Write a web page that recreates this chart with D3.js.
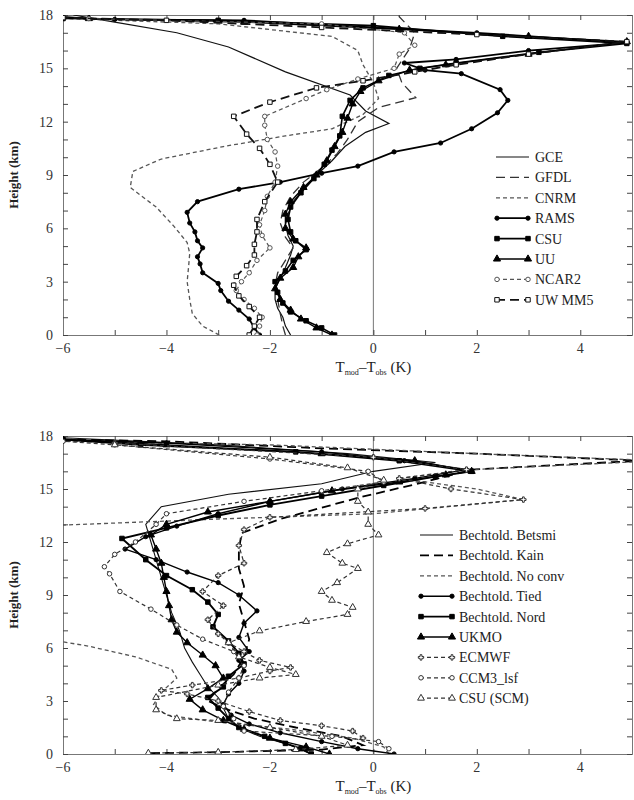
<!DOCTYPE html>
<html>
<head>
<meta charset="utf-8">
<script src="https://cdn.jsdelivr.net/npm/d3@7"></script>
<style>
  body { margin: 0; background: #fff; }
</style>
</head>
<body>
<div id="chart"></div>
<script>
// x axis (K) and height (km) ticks, shared by both panels
var xDomain = [-6, 5];
var yDomain = [0, 18];
var xLabels = [-6, -4, -2, 0, 2, 4];
var yLabels = [0, 3, 6, 9, 12, 15, 18];

// ---- top panel : CRM / regional models, [T diff, height] ----
var gce = [[-1.6,0],[-1.7,0.5],[-1.75,1],[-1.85,1.5],[-1.9,2],[-1.9,2.6],[-1.8,3.2],[-1.7,3.8],[-1.6,4.5],[-1.55,5],[-1.65,5.6],[-1.7,6.2],[-1.65,6.8],[-1.55,7.5],[-1.35,8.2],[-1.1,9],[-0.8,9.8],[-0.55,10.6],[-0.15,11.4],[0.3,11.9],[-0.15,12.6],[-0.45,13.5],[-1.7,14.8],[-2.8,16.2],[-3.8,17.0],[-5.0,17.6],[-5.8,18]];
var gfdl = [[-1.7,0],[-1.75,0.5],[-1.8,1.2],[-1.85,2],[-1.9,2.8],[-1.85,3.5],[-1.7,4.2],[-1.55,4.9],[-1.7,5.5],[-1.8,6.3],[-1.75,7],[-1.6,7.8],[-1.35,8.6],[-1.0,9.4],[-0.7,10.2],[-0.5,11],[-0.3,12],[0.1,12.8],[0.82,13.35],[0.55,14.2],[0.45,15],[0.7,16.1],[0.8,17],[0.5,17.9],[0.5,18]];
var cnrm = [[-2.98,0],[-3.3,0.5],[-3.5,1.2],[-3.55,2],[-3.6,3],[-3.57,3.9],[-3.55,4.6],[-3.6,5.2],[-3.85,6.1],[-4.2,7.2],[-4.7,8.3],[-4.65,9.2],[-4.1,9.9],[-2.9,10.6],[-1.7,11.2],[-0.8,11.6],[-0.2,12.4],[0.1,13.3],[0.0,14.2],[-0.2,15.2],[-0.3,16.0],[-0.8,16.8],[-3.0,17.5],[-5.9,17.8]];
var rams = [[-2.2,0],[-2.3,0.4],[-2.4,0.9],[-2.6,1.4],[-2.8,1.9],[-2.95,2.5],[-3.0,2.9],[-3.3,3.5],[-3.35,4.0],[-3.4,4.4],[-3.3,4.9],[-3.4,5.3],[-3.45,5.8],[-3.55,6.3],[-3.6,6.9],[-3.4,7.5],[-2.6,8.2],[-1.8,8.6],[-1.0,9.1],[-0.3,9.5],[0.4,10.3],[1.3,10.8],[1.9,11.6],[2.4,12.5],[2.6,13.2],[2.45,13.8],[1.7,14.7],[1.0,14.9],[0.6,15.3],[1.6,15.5],[3.0,16.0],[4.9,16.45],[2.0,17.0],[0,17.3],[-2.5,17.7],[-5.0,17.75],[-6,17.85]];
var csu = [[-0.75,0],[-1.0,0.4],[-1.3,0.8],[-1.6,1.3],[-1.75,1.8],[-1.85,2.4],[-1.9,3],[-1.7,3.6],[-1.55,4.2],[-1.3,4.8],[-1.5,5.3],[-1.6,5.8],[-1.65,6.5],[-1.6,7.2],[-1.4,8.0],[-1.15,8.8],[-0.95,9.6],[-0.8,10.4],[-0.65,11.2],[-0.6,12.3],[-0.45,13.2],[-0.2,13.9],[0.3,14.6],[0.9,15.0],[1.6,15.3],[3.2,15.9],[4.9,16.4],[2.5,16.8],[0,17.4],[-3,17.7],[-6,17.8]];
var uu = [[-0.8,0],[-1.1,0.4],[-1.4,0.9],[-1.6,1.4],[-1.8,2],[-1.9,2.6],[-1.8,3.2],[-1.55,3.8],[-1.45,4.4],[-1.3,4.9],[-1.55,5.4],[-1.7,6],[-1.7,6.8],[-1.6,7.5],[-1.35,8.3],[-1.1,9],[-0.9,9.8],[-0.75,10.6],[-0.6,11.4],[-0.5,12.2],[-0.4,13],[-0.25,13.7],[0.1,14.3],[0.7,14.9],[1.4,15.2],[3.0,15.8],[4.9,16.5],[3,16.8],[0.5,17.2],[-2.5,17.6],[-5.5,17.8],[-6,17.9]];
var ncar2 = [[-2.25,0],[-2.2,0.5],[-2.15,1],[-2.3,1.5],[-2.5,2],[-2.65,2.5],[-2.55,3],[-2.4,3.5],[-2.25,4.2],[-2.0,4.9],[-2.15,5.6],[-2.2,6.2],[-2.1,7],[-2.05,7.8],[-1.9,8.6],[-1.85,9.5],[-1.9,10.3],[-2.05,11],[-2.1,11.8],[-2.1,12.3],[-1.3,13.3],[-0.9,13.8],[-0.3,14.4],[0.4,15.0],[0.5,15.8],[0.8,16.3],[0.6,17.0],[-1,17.5],[-5.5,17.8]];
var uwmm5 = [[-2.4,0],[-2.3,0.5],[-2.2,1],[-2.4,1.6],[-2.6,2.2],[-2.7,2.8],[-2.65,3.3],[-2.45,3.9],[-2.3,4.5],[-2.3,5.1],[-2.25,5.8],[-2.25,6.5],[-2.1,7.5],[-1.85,8.6],[-2.0,9.6],[-2.2,10.5],[-2.45,11.3],[-2.7,12.3],[-2.0,13.1],[-1.1,13.9],[-0.2,14.3],[0.8,14.8],[1.6,15.2],[3.0,15.8],[4.9,16.5],[2.0,16.9],[-1.0,17.3],[-4.0,17.7],[-6,17.85]];

// ---- bottom panel : single column models ----
var betsmi = [[-1.2,0],[-1.6,0.5],[-2.2,1],[-2.6,1.5],[-2.8,2],[-2.9,2.6],[-3.0,3.2],[-3.2,3.8],[-3.35,4.5],[-3.5,5.2],[-3.65,6],[-3.75,7],[-3.9,8],[-4.0,9],[-4.1,10],[-4.2,11],[-4.3,12],[-4.4,13],[-4.1,14],[-2.8,14.7],[-1.0,15.3],[0,16],[1.2,16.5],[-0.5,17],[-3,17.5],[-6,17.9]];
var kain = [[-4.3,0.05],[-3.0,0.1],[-1.0,0.25],[-0.2,0.5],[-0.6,1],[-1.5,1.5],[-2.3,2],[-2.8,2.5],[-3.2,3],[-3.0,3.7],[-2.7,4.5],[-2.5,5.5],[-2.4,6.5],[-2.5,7.5],[-2.6,8.5],[-2.5,9.5],[-2.6,10.5],[-2.6,11.5],[-2.55,12.5],[-1.8,13.3],[-0.3,14.5],[1.0,15.4],[1.9,16.1],[4.5,16.5],[5.2,16.6],[2.0,17],[-1.0,17.3],[-4,17.7],[-6,17.8]];
var noconv = [[0.3,0],[0.2,0.4],[-0.4,0.9],[-1.6,1.4],[-3.0,1.8],[-4.0,2.2],[-4.25,2.8],[-4.1,3.5],[-3.8,4.3],[-3.9,4.8],[-4.6,5.5],[-5.5,6.1],[-6.5,6.6],[-8,8],[-8,12],[-6.5,12.9],[-3,13.3],[0,13.6],[2.9,14.4],[2.0,15.0],[0.5,15.6],[1.9,16.1],[5.5,16.6],[2,17],[-2,17.5],[-6,17.7]];
var tied = [[0.4,0],[-0.3,0.3],[-1.0,0.7],[-1.8,1.2],[-2.4,1.7],[-2.75,2.2],[-2.9,2.8],[-2.8,3.4],[-2.6,4.0],[-2.5,4.7],[-2.6,5.3],[-2.4,5.8],[-2.6,6.6],[-2.5,7.4],[-2.25,8.1],[-2.6,9],[-3.0,9.7],[-3.6,10.3],[-4.2,11],[-4.8,11.6],[-4.4,12.3],[-3.8,12.9],[-3.0,13.6],[-2.0,14.3],[-0.6,15],[0.8,15.6],[1.8,16.1],[0.6,16.6],[-1,17.1],[-4,17.6],[-6,17.8]];
var nord = [[-1.2,0],[-1.4,0.3],[-1.7,0.6],[-2.1,1.0],[-2.6,1.5],[-2.8,2.0],[-3.0,2.6],[-3.2,3.2],[-2.9,3.8],[-2.8,4.4],[-2.5,5.1],[-2.6,5.7],[-2.8,6.4],[-3.1,7.2],[-3.0,7.9],[-3.2,8.6],[-3.5,9.3],[-4.0,10.1],[-4.4,11.0],[-4.86,12.2],[-4.0,12.8],[-3.0,13.5],[-2.0,14.1],[-1.0,14.6],[0.2,15.2],[1.2,15.7],[1.9,16.0],[0.5,16.6],[-1.5,17.1],[-4.5,17.5],[-6,17.8]];
var ukmo = [[-0.85,0],[-1.3,0.4],[-2.0,0.9],[-2.5,1.4],[-2.9,1.9],[-3.3,2.5],[-3.55,3.1],[-3.2,3.7],[-2.9,4.3],[-3.05,5.0],[-3.3,5.6],[-3.6,6.3],[-3.8,6.9],[-3.9,7.6],[-3.95,8.4],[-4.0,9.2],[-4.05,10.0],[-4.1,10.8],[-4.2,11.6],[-4.3,12.4],[-4.0,13.0],[-3.2,13.7],[-2.0,14.3],[-0.8,14.9],[0.5,15.4],[1.4,15.8],[1.9,16.0],[0.8,16.6],[-1,17],[-4,17.5],[-6,17.8]];
var ecmwf = [[-0.2,0.9],[-0.4,1.3],[-1.0,1.6],[-1.8,1.9],[-2.4,2.4],[-3.0,3.0],[-3.6,3.4],[-4.1,3.6],[-3.5,3.9],[-2.6,4.3],[-2.0,4.7],[-1.6,4.9],[-2.2,5.3],[-2.5,5.8],[-2.8,6.3],[-3.0,6.8],[-3.2,7.6],[-2.9,8.4],[-3.3,9.2],[-3.0,10.1],[-2.5,10.8],[-2.6,11.8],[-2.5,12.7],[-2.0,13.4],[1.0,13.9],[2.9,14.4],[1.5,15.0],[0.5,15.6],[1.8,16.1],[0,16.8],[-5,17.6]];
var ccm3 = [[0.3,0.3],[0.1,0.7],[-0.8,1.0],[-2.5,1.3],[-2.7,2],[-2.9,2.7],[-2.8,3.5],[-2.6,4.3],[-2.5,5],[-2.7,5.8],[-3.3,6.5],[-3.8,7.3],[-4.3,8.2],[-4.9,9.2],[-5.1,10.2],[-5.2,10.6],[-5.0,11.3],[-4.6,12],[-4.2,13],[-4.0,13.6],[-2.5,14.3],[-1.0,14.9],[0.2,15.4],[-0.1,16],[-2,16.7],[-5,17.5],[-6,17.7]];
var csuScm = [[-4.35,0.05],[-3.0,0.1],[-1.5,0.25],[-0.5,0.5],[-1.0,1.0],[-2.0,1.5],[-3.0,1.9],[-3.8,2.0],[-4.2,2.5],[-4.2,3.2],[-3.0,3.9],[-2.2,4.3],[-1.5,4.5],[-2.0,4.9],[-2.6,5.5],[-2.8,6.3],[-2.2,6.97],[-1.3,7.5],[-0.5,7.9],[-0.4,8.3],[-0.8,8.7],[-1.0,9.2],[-0.7,9.7],[-0.3,10.5],[-0.6,10.8],[-0.9,11.4],[-0.5,11.9],[0.1,12.4],[-0.1,13],[-0.1,13.7],[-0.3,14.3],[-0.3,15],[0.2,15.5],[-0.5,16.2],[-2,16.8],[-5,17.5]];

// line styles
var LONG = "9,5", SHORT = "4,3";
var FONT = "'Liberation Serif', 'DejaVu Serif', 'Times New Roman', serif";

var topSeries = [
    {name: "GCE", data: gce, w: 1.2, dash: null, color: "#111", mark: null},
    {name: "GFDL", data: gfdl, w: 1.3, dash: LONG, color: "#333", mark: null},
    {name: "CNRM", data: cnrm, w: 1.3, dash: SHORT, color: "#555", mark: null},
    {name: "RAMS", data: rams, w: 1.8, dash: null, color: "#000", mark: "circle"},
    {name: "CSU", data: csu, w: 1.6, dash: null, color: "#000", mark: "square"},
    {name: "UU", data: uu, w: 1.4, dash: null, color: "#000", mark: "triangle"},
    {name: "NCAR2", data: ncar2, w: 1.2, dash: SHORT, color: "#555", mark: "ocircle"},
    {name: "UW MM5", data: uwmm5, w: 1.8, dash: LONG, color: "#111", mark: "osquare"}
];

var bottomSeries = [
    {name: "Bechtold. Betsmi", data: betsmi, w: 1.1, dash: null, color: "#111", mark: null},
    {name: "Bechtold. Kain", data: kain, w: 1.8, dash: LONG, color: "#000", mark: null},
    {name: "Bechtold. No conv", data: noconv, w: 1.3, dash: SHORT, color: "#555", mark: null},
    {name: "Bechtold. Tied", data: tied, w: 1.4, dash: null, color: "#000", mark: "circle"},
    {name: "Bechtold. Nord", data: nord, w: 1.9, dash: null, color: "#000", mark: "square"},
    {name: "UKMO", data: ukmo, w: 1.4, dash: null, color: "#000", mark: "triangle"},
    {name: "ECMWF", data: ecmwf, w: 1.2, dash: SHORT, color: "#333", mark: "star"},
    {name: "CCM3_lsf", data: ccm3, w: 1.2, dash: SHORT, color: "#333", mark: "ocircle"},
    {name: "CSU (SCM)", data: csuScm, w: 1.2, dash: SHORT, color: "#333", mark: "otriangle"}
];

var svg = d3.select("#chart").append("svg")
    .attr("width", 634).attr("height", 800)
    .attr("font-family", FONT);

function addMarker(g, type, x, y, color) {
    var filled = ["circle", "square", "triangle"].indexOf(type) >= 0;
    var sym = {circle: d3.symbolCircle, ocircle: d3.symbolCircle, square: d3.symbolSquare,
        osquare: d3.symbolSquare, triangle: d3.symbolTriangle, otriangle: d3.symbolTriangle,
        star: d3.symbolCross}[type];
    var size = {circle: 14, ocircle: 16, square: 20, osquare: 20, triangle: 22, otriangle: 20, star: 16}[type];
    g.append("path")
        .attr("d", d3.symbol().type(sym).size(size)())
        .attr("transform", "translate(" + x + "," + y + ")")
        .attr("fill", filled ? color : "#fff")
        .attr("stroke", color)
        .attr("stroke-width", 1);
}

function drawPanel(id, top, bottom, series, legendX, legendY) {
    var left = 63, right = 632;
    var x = d3.scaleLinear().domain(xDomain).range([left, right]);
    var y = d3.scaleLinear().domain(yDomain).range([bottom, top]);
    var g = svg.append("g");

    g.append("clipPath").attr("id", "clip" + id)
        .append("rect").attr("x", left).attr("y", top)
        .attr("width", right - left).attr("height", bottom - top);

    // zero line
    g.append("line").attr("x1", x(0)).attr("x2", x(0)).attr("y1", top).attr("y2", bottom)
        .attr("stroke", "#777").attr("stroke-width", 1);

    // axes : ticks inside on all four sides
    g.append("g").attr("transform", "translate(0," + bottom + ")")
        .call(d3.axisBottom(x).tickValues(d3.range(-6, 6, 1)).tickSize(-5).tickFormat(""));
    g.append("g").attr("transform", "translate(0," + top + ")")
        .call(d3.axisTop(x).tickValues(d3.range(-6, 6, 1)).tickSize(-5).tickFormat(""));
    g.append("g").attr("transform", "translate(" + left + ",0)")
        .call(d3.axisLeft(y).tickValues(d3.range(0, 19, 1)).tickSize(-5).tickFormat(""));
    g.append("g").attr("transform", "translate(" + right + ",0)")
        .call(d3.axisRight(y).tickValues(d3.range(0, 19, 1)).tickSize(-5).tickFormat(""));
    g.selectAll(".domain").attr("stroke", "#777");
    g.selectAll(".tick line").attr("stroke", "#444");

    // tick labels
    g.selectAll(".xl").data(xLabels).enter().append("text")
        .attr("x", function (d) { return x(d); })
        .attr("y", bottom + 18)
        .attr("text-anchor", "middle")
        .attr("font-family", FONT)
        .attr("font-size", 14).attr("fill", "#333")
        .text(function (d) { return d < 0 ? "\u2212" + (-d) : d; });
    g.selectAll(".yl").data(yLabels).enter().append("text")
        .attr("x", left - 10)
        .attr("y", function (d) { return y(d) + 5; })
        .attr("text-anchor", "end")
        .attr("font-family", FONT)
        .attr("font-size", 14).attr("fill", "#333")
        .text(function (d) { return d; });

    // axis titles
    g.append("text")
        .attr("transform", "translate(18," + ((top + bottom) / 2) + ") rotate(-90)")
        .attr("text-anchor", "middle").attr("font-size", 13).attr("font-weight", "bold")
        .attr("font-family", FONT).attr("fill", "#222")
        .text("Height (km)");
    var t = g.append("text").attr("x", x(0)).attr("y", bottom + 37)
        .attr("text-anchor", "middle").attr("font-size", 15)
        .attr("font-family", FONT).attr("fill", "#222");
    t.append("tspan").text("T");
    t.append("tspan").attr("font-size", 8).attr("dy", 3).text("mod");
    t.append("tspan").attr("dy", -3).text("\u2013T");
    t.append("tspan").attr("font-size", 8).attr("dy", 3).text("obs");
    t.append("tspan").attr("dy", -3).text(" (K)");

    // profiles
    var line = d3.line().x(function (d) { return x(d[0]); }).y(function (d) { return y(d[1]); });
    var plot = g.append("g").attr("clip-path", "url(#clip" + id + ")");
    series.forEach(function (s) {
        plot.append("path").datum(s.data)
            .attr("d", line)
            .attr("fill", "none")
            .attr("stroke", s.color)
            .attr("stroke-width", s.w)
            .attr("stroke-dasharray", s.dash);
        if (s.mark) {
            s.data.forEach(function (d) {
                if (d[0] >= xDomain[0] && d[0] <= xDomain[1]) addMarker(plot, s.mark, x(d[0]), y(d[1]), s.color);
            });
        }
    });

    // legend
    series.forEach(function (s, i) {
        var ly = legendY + i * 20.4;
        var lg = g.append("g");
        lg.append("line").attr("x1", legendX).attr("x2", legendX + 33).attr("y1", ly).attr("y2", ly)
            .attr("stroke", s.color).attr("stroke-width", s.w).attr("stroke-dasharray", s.dash);
        if (s.mark) {
            addMarker(lg, s.mark, legendX + 1, ly, s.color);
            addMarker(lg, s.mark, legendX + 32, ly, s.color);
        }
        lg.append("text").attr("x", legendX + 39).attr("y", ly + 5)
            .attr("font-family", FONT)
            .attr("font-size", 14).attr("fill", "#222").text(s.name);
    });
}

drawPanel("a", 15, 335, topSeries, 496, 157);
drawPanel("b", 436, 754, bottomSeries, 420, 535);
</script>
</body>
</html>
